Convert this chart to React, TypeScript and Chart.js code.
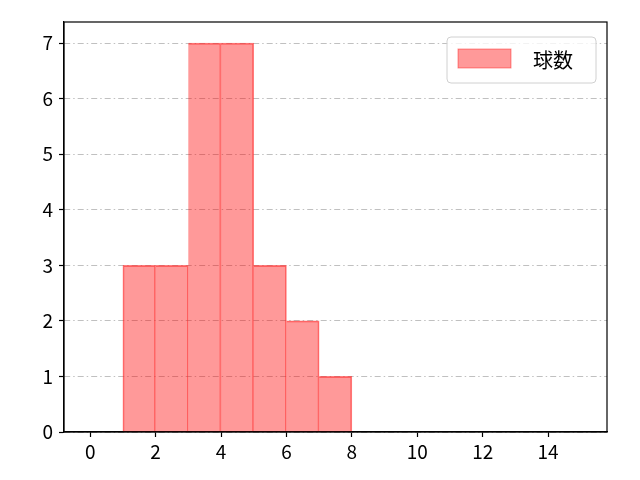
import { useEffect, useRef } from 'react';
import { Chart, registerables } from 'chart.js';
Chart.register(...registerables);

const binStarts = [1, 2, 3, 4, 5, 6, 7];
const counts = [3, 3, 7, 7, 3, 2, 1];
const xTicks = [0, 2, 4, 6, 8, 10, 12, 14];
const yTicks = [0, 1, 2, 3, 4, 5, 6, 7];
const seriesLabel = '球数';

const FONT = "'Noto Sans CJK JP', 'DejaVu Sans', sans-serif";

const framePlugin = {
  id: 'frame',
  afterDraw(chart: any) {
    const { ctx, chartArea: a } = chart;
    ctx.save();
    ctx.strokeStyle = '#000';
    ctx.lineWidth = 1.2;
    ctx.strokeRect(a.left, a.top, a.right - a.left, a.bottom - a.top);

    // legend box, upper right inside the axes
    const bx = a.right - 160, by = a.top + 15, bw = 149, bh = 46;
    ctx.fillStyle = 'rgba(255,255,255,0.8)';
    ctx.strokeStyle = '#d0d0d0';
    ctx.lineWidth = 1;
    ctx.beginPath();
    ctx.roundRect(bx, by, bw, bh, 4);
    ctx.fill();
    ctx.stroke();
    ctx.fillStyle = 'rgba(255,0,0,0.4)';
    ctx.strokeStyle = 'rgba(255,0,0,0.4)';
    ctx.fillRect(bx + 11, by + 12, 53, 19);
    ctx.strokeRect(bx + 11, by + 12, 53, 19);
    ctx.fillStyle = '#000';
    ctx.font = `20px ${FONT}`;
    ctx.textBaseline = 'middle';
    ctx.fillText(seriesLabel, bx + 86, by + 23);
    ctx.restore();
  },
};

export default function App() {
  const canvasRef = useRef<HTMLCanvasElement>(null);
  const chartRef = useRef<Chart | null>(null);

  useEffect(() => {
    if (!canvasRef.current) return;
    document.body.style.margin = '0';
    if (chartRef.current) chartRef.current.destroy();

    chartRef.current = new Chart(canvasRef.current, {
      type: 'bar',
      data: {
        datasets: [{
          label: seriesLabel,
          data: binStarts.map((s, i) => ({ x: s + 0.5, y: counts[i] })),
          backgroundColor: 'rgba(255,0,0,0.4)',
          borderColor: 'rgba(255,40,40,0.6)',
          borderWidth: (c: any) => ({ top: 1, right: 1, bottom: 0, left: c.dataIndex === 0 ? 1 : 0 }),
          borderSkipped: false,
          barPercentage: 1,
          categoryPercentage: 1,
        }],
      },
      options: {
        animation: false,
        responsive: false,
        layout: { padding: { left: 0, right: 33, top: 22, bottom: 0 } },
        plugins: { legend: { display: false }, tooltip: { enabled: false } },
        scales: {
          x: {
            type: 'linear',
            min: -0.8,
            max: 15.8,
            offset: false,
            afterBuildTicks: (s: any) => { s.ticks = xTicks.map(v => ({ value: v })); },
            afterFit: (s: any) => { s.height = 48; },
            ticks: { color: '#000', font: { size: 19, family: FONT }, padding: 3, maxRotation: 0 },
            grid: { offset: false, drawOnChartArea: false, tickLength: 5, tickColor: '#000', tickWidth: 1.2 },
            border: { color: '#000', width: 1.2 },
          },
          y: {
            min: 0,
            max: 7.38,
            afterBuildTicks: (s: any) => { s.ticks = yTicks.map(v => ({ value: v })); },
            afterFit: (s: any) => { s.width = 64; },
            ticks: { color: '#000', font: { size: 19, family: FONT }, padding: 6 },
            grid: { color: '#b0b0b0', lineWidth: 0.8, tickLength: 5, tickColor: '#000', tickWidth: 1.2 },
            border: { color: '#000', width: 1.2, dash: [6, 3, 1.5, 3] },
          },
        },
      },
      plugins: [framePlugin],
    });

    return () => { chartRef.current?.destroy(); };
  }, []);

  return (
    <canvas ref={canvasRef} width={640} height={480} role="img" aria-label="球数 histogram" />
  );
}
